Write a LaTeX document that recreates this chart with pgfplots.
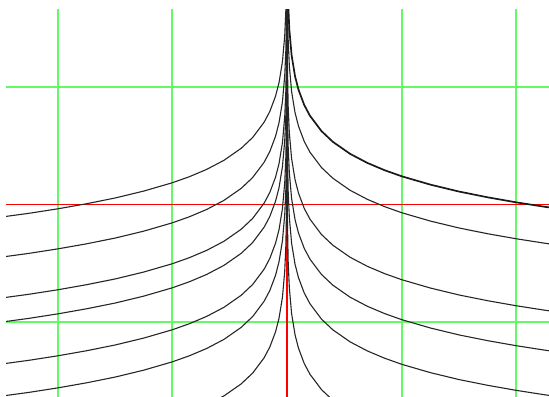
\documentclass[border=0pt]{standalone}
\usepackage{pgfplots}
\pgfplotsset{compat=1.18}
\definecolor{gridgreen}{RGB}{100,250,100}
\begin{document}
\begin{tikzpicture}
\begin{axis}[
  x=114.7bp, y=117.5bp,
  xmin=-2.45, xmax=2.284, ymin=-1.6298, ymax=1.6553,
  ticks=none, axis line style={draw=none},
  clip=true,
  every axis plot/.append style={no markers},
]
% grid lines
\addplot[gridgreen, line width=2bp] coordinates {(-2,-2) (-2,2)};
\addplot[gridgreen, line width=2bp] coordinates {(-1,-2) (-1,2)};
\addplot[gridgreen, line width=2bp] coordinates {(1,-2) (1,2)};
\addplot[gridgreen, line width=2bp] coordinates {(2,-2) (2,2)};
\addplot[gridgreen, line width=2bp] coordinates {(-3,1) (3,1)};
\addplot[gridgreen, line width=2bp] coordinates {(-3,-1) (3,-1)};
% axes
\addplot[red, line width=1.4bp] coordinates {(-3,0) (3,0)};
\addplot[red, line width=1.4bp] coordinates {(0,-2) (0,2)};
\pgfplotsset{cur/.style={black!85, line width=1.1bp}}
% right curves
\addplot[black!90, line width=1.7bp] coordinates {(0.00001,3.924)(0.0001,3.187)(0.001,2.450)(0.003,2.099)(0.01,1.714)(0.02,1.492)(0.04,1.270)(0.07,1.091)(0.1,0.977)(0.15,0.847)(0.2,0.755)(0.3,0.625)(0.4,0.533)(0.55,0.431)(0.7,0.354)(0.85,0.292)(1,0.240)(1.25,0.169)(1.5,0.110)(1.75,0.061)(2,0.018)(2.25,-0.020)(2.5,-0.053)};
\addplot[cur] coordinates {(0.00001,3.614)(0.0001,2.877)(0.001,2.140)(0.003,1.789)(0.01,1.404)(0.02,1.182)(0.04,0.960)(0.07,0.781)(0.1,0.667)(0.15,0.537)(0.2,0.445)(0.3,0.315)(0.4,0.223)(0.55,0.121)(0.7,0.044)(0.85,-0.018)(1,-0.070)(1.25,-0.141)(1.5,-0.200)(1.75,-0.249)(2,-0.292)(2.25,-0.330)(2.5,-0.363)};
\addplot[cur] coordinates {(0.00001,3.044)(0.0001,2.307)(0.001,1.570)(0.003,1.219)(0.01,0.834)(0.02,0.612)(0.04,0.390)(0.07,0.211)(0.1,0.097)(0.15,-0.033)(0.2,-0.125)(0.3,-0.255)(0.4,-0.347)(0.55,-0.449)(0.7,-0.526)(0.85,-0.588)(1,-0.640)(1.25,-0.711)(1.5,-0.770)(1.75,-0.819)(2,-0.862)(2.25,-0.900)(2.5,-0.933)};
\addplot[cur] coordinates {(0.00001,2.704)(0.0001,1.967)(0.001,1.230)(0.003,0.879)(0.01,0.494)(0.02,0.272)(0.04,0.050)(0.07,-0.129)(0.1,-0.243)(0.15,-0.373)(0.2,-0.465)(0.3,-0.595)(0.4,-0.687)(0.55,-0.789)(0.7,-0.866)(0.85,-0.928)(1,-0.980)(1.25,-1.051)(1.5,-1.110)(1.75,-1.159)(2,-1.202)(2.25,-1.240)(2.5,-1.273)};
\addplot[cur] coordinates {(0.00001,2.324)(0.0001,1.587)(0.001,0.850)(0.003,0.499)(0.01,0.114)(0.02,-0.108)(0.04,-0.330)(0.07,-0.509)(0.1,-0.623)(0.15,-0.753)(0.2,-0.845)(0.3,-0.975)(0.4,-1.067)(0.55,-1.169)(0.7,-1.246)(0.85,-1.308)(1,-1.360)(1.25,-1.431)(1.5,-1.490)(1.75,-1.539)(2,-1.582)(2.25,-1.620)(2.5,-1.653)};
\addplot[cur] coordinates {(0.000001,2.461)(0.00001,1.724)(0.0001,0.987)(0.001,0.250)(0.003,-0.101)(0.01,-0.486)(0.02,-0.708)(0.04,-0.930)(0.07,-1.109)(0.1,-1.223)(0.15,-1.353)(0.2,-1.445)(0.3,-1.575)(0.4,-1.667)(0.55,-1.769)};
% left curves
\addplot[cur] coordinates {(-0.00001,3.869)(-0.0001,3.132)(-0.001,2.395)(-0.003,2.044)(-0.01,1.659)(-0.02,1.437)(-0.04,1.215)(-0.07,1.036)(-0.1,0.922)(-0.15,0.792)(-0.2,0.700)(-0.3,0.570)(-0.4,0.478)(-0.55,0.376)(-0.7,0.299)(-0.85,0.237)(-1,0.185)(-1.25,0.114)(-1.5,0.055)(-1.75,0.006)(-2,-0.037)(-2.25,-0.075)(-2.5,-0.108)};
\addplot[cur] coordinates {(-0.00001,3.528)(-0.0001,2.791)(-0.001,2.054)(-0.003,1.703)(-0.01,1.318)(-0.02,1.096)(-0.04,0.874)(-0.07,0.695)(-0.1,0.581)(-0.15,0.451)(-0.2,0.359)(-0.3,0.229)(-0.4,0.137)(-0.55,0.035)(-0.7,-0.042)(-0.85,-0.104)(-1,-0.156)(-1.25,-0.227)(-1.5,-0.286)(-1.75,-0.335)(-2,-0.378)(-2.25,-0.416)(-2.5,-0.449)};
\addplot[cur] coordinates {(-0.00001,3.180)(-0.0001,2.443)(-0.001,1.706)(-0.003,1.355)(-0.01,0.970)(-0.02,0.748)(-0.04,0.526)(-0.07,0.347)(-0.1,0.233)(-0.15,0.103)(-0.2,0.011)(-0.3,-0.119)(-0.4,-0.211)(-0.55,-0.313)(-0.7,-0.390)(-0.85,-0.452)(-1,-0.504)(-1.25,-0.575)(-1.5,-0.634)(-1.75,-0.683)(-2,-0.726)(-2.25,-0.764)(-2.5,-0.797)};
\addplot[cur] coordinates {(-0.00001,2.975)(-0.0001,2.238)(-0.001,1.501)(-0.003,1.150)(-0.01,0.765)(-0.02,0.543)(-0.04,0.321)(-0.07,0.142)(-0.1,0.028)(-0.15,-0.102)(-0.2,-0.194)(-0.3,-0.324)(-0.4,-0.416)(-0.55,-0.518)(-0.7,-0.595)(-0.85,-0.657)(-1,-0.709)(-1.25,-0.780)(-1.5,-0.839)(-1.75,-0.888)(-2,-0.931)(-2.25,-0.969)(-2.5,-1.002)};
\addplot[cur] coordinates {(-0.00001,2.618)(-0.0001,1.881)(-0.001,1.144)(-0.003,0.793)(-0.01,0.408)(-0.02,0.186)(-0.04,-0.036)(-0.07,-0.215)(-0.1,-0.329)(-0.15,-0.459)(-0.2,-0.551)(-0.3,-0.681)(-0.4,-0.773)(-0.55,-0.875)(-0.7,-0.952)(-0.85,-1.014)(-1,-1.066)(-1.25,-1.137)(-1.5,-1.196)(-1.75,-1.245)(-2,-1.288)(-2.25,-1.326)(-2.5,-1.359)};
\addplot[cur] coordinates {(-0.00001,2.345)(-0.0001,1.608)(-0.001,0.871)(-0.003,0.520)(-0.01,0.135)(-0.02,-0.087)(-0.04,-0.309)(-0.07,-0.488)(-0.1,-0.602)(-0.15,-0.732)(-0.2,-0.824)(-0.3,-0.954)(-0.4,-1.046)(-0.55,-1.148)(-0.7,-1.225)(-0.85,-1.287)(-1,-1.339)(-1.25,-1.410)(-1.5,-1.469)(-1.75,-1.518)(-2,-1.561)(-2.25,-1.599)(-2.5,-1.632)};
\addplot[cur] coordinates {(-0.000001,2.601)(-0.00001,1.864)(-0.0001,1.127)(-0.001,0.390)(-0.003,0.039)(-0.01,-0.346)(-0.02,-0.568)(-0.04,-0.790)(-0.07,-0.969)(-0.1,-1.083)(-0.15,-1.213)(-0.2,-1.305)(-0.3,-1.435)(-0.4,-1.527)(-0.55,-1.629)(-0.7,-1.706)};
\end{axis}
\path ([xshift=-6bp]current axis.south west) rectangle ([yshift=10bp]current axis.north east);
\end{tikzpicture}
\end{document}
